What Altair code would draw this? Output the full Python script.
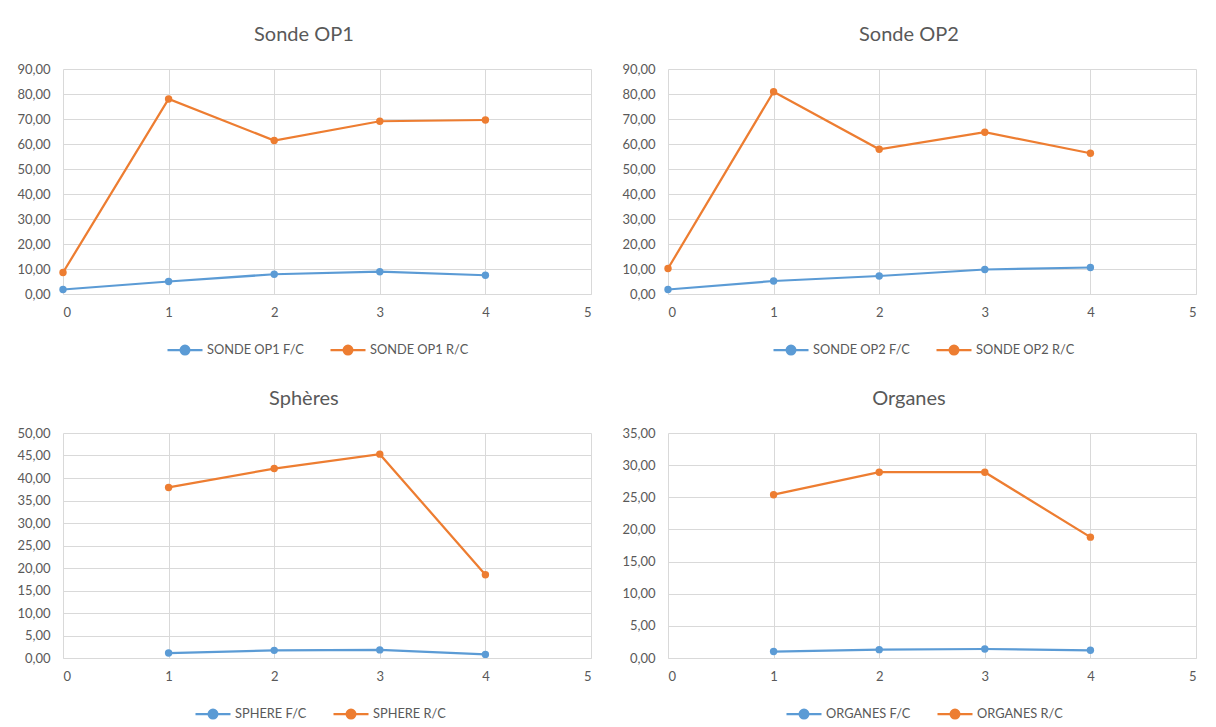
import altair as alt
import pandas as pd

# ---- data ----
x_op = [0, 1, 2, 3, 4]
op1_fc = [1.8, 5.0, 7.9, 8.9, 7.5]
op1_rc = [8.6, 78.0, 61.4, 69.1, 69.6]
op2_fc = [1.8, 5.2, 7.2, 9.8, 10.6]
op2_rc = [10.2, 80.9, 57.9, 64.7, 56.3]

x_sp = [1, 2, 3, 4]
sph_fc = [1.1, 1.7, 1.8, 0.8]
sph_rc = [37.9, 42.1, 45.3, 18.5]
org_fc = [1.0, 1.3, 1.4, 1.2]
org_rc = [25.4, 28.9, 28.9, 18.8]

x_ticks = [0, 1, 2, 3, 4, 5]

BLUE = "#5B9BD5"
ORANGE = "#ED7D31"
GRID = "#D9D9D9"
TXT = "#595959"
FONT = "Lato"

SYM = "M-1,0L1,0M-0.25,0A0.25,0.25,0,1,1,0.25,0A0.25,0.25,0,1,1,-0.25,0Z"


def panel(title, xs, fc, rc, lab_fc, lab_rc, ymax, ystep, leg_x):
    n = len(xs)
    df = pd.DataFrame({
        "x": xs + xs,
        "y": fc + rc,
        "s": [lab_fc] * n + [lab_rc] * n,
    })
    color = alt.Color(
        "s:N",
        scale=alt.Scale(domain=[lab_fc, lab_rc], range=[BLUE, ORANGE]),
        legend=alt.Legend(
            title=None, orient="none", direction="horizontal",
            legendX=leg_x, legendY=262,
            symbolType=SYM, symbolSize=1225, symbolStrokeWidth=2.25,
            labelFont=FONT, labelFontSize=12.8, labelColor=TXT,
            columnPadding=22, labelOffset=3,
        ),
    )
    yvals = list(range(0, ymax + 1, ystep))
    base = alt.Chart(df).encode(
        x=alt.X("x:Q", scale=alt.Scale(domain=[0, 5], nice=False),
                axis=alt.Axis(values=x_ticks, title=None, format="d",
                              ticks=False, domainColor=GRID, gridColor=GRID,
                              labelFont=FONT, labelFontSize=13, labelColor=TXT,
                              labelPadding=12)),
        y=alt.Y("y:Q", scale=alt.Scale(domain=[0, ymax], nice=False),
                axis=alt.Axis(values=yvals, title=None, ticks=False, domain=False,
                              gridColor=GRID, labelFont=FONT, labelFontSize=13,
                              labelColor=TXT, labelPadding=13,
                              labelExpr="replace(format(datum.value, '.2f'), '.', ',')")),
        color=color,
    )
    line = base.mark_line(strokeWidth=2.25)
    pts = base.mark_point(filled=True, size=55, opacity=1)
    return alt.layer(line, pts).properties(
        width=528, height=225,
        title=alt.Title(title, font=FONT, fontSize=20, fontWeight="normal",
                        color=TXT, anchor="middle", frame="bounds", offset=18),
    )


p1 = panel("Sonde OP1", x_op, op1_fc, op1_rc, "SONDE OP1 F/C", "SONDE OP1 R/C", 90, 10, 103)
p2 = panel("Sonde OP2", x_op, op2_fc, op2_rc, "SONDE OP2 F/C", "SONDE OP2 R/C", 90, 10, 104)
p3 = panel("Sphères", x_sp, sph_fc, sph_rc, "SPHERE F/C", "SPHERE R/C", 50, 5, 131)
p4 = panel("Organes", x_sp, org_fc, org_rc, "ORGANES F/C", "ORGANES R/C", 35, 5, 117)

row1 = alt.hconcat(p1, p2, spacing=30).resolve_scale(color="independent")
row2 = alt.hconcat(p3, p4, spacing=30).resolve_scale(color="independent")

chart = alt.vconcat(row1, row2, spacing=30).resolve_scale(
    color="independent"
).configure_view(strokeWidth=0).properties(
    padding={"left": 8, "top": 17, "right": 5, "bottom": 5},
    background="white",
)

chart.save("out.html", embed_options={"renderer": "svg", "actions": False})
